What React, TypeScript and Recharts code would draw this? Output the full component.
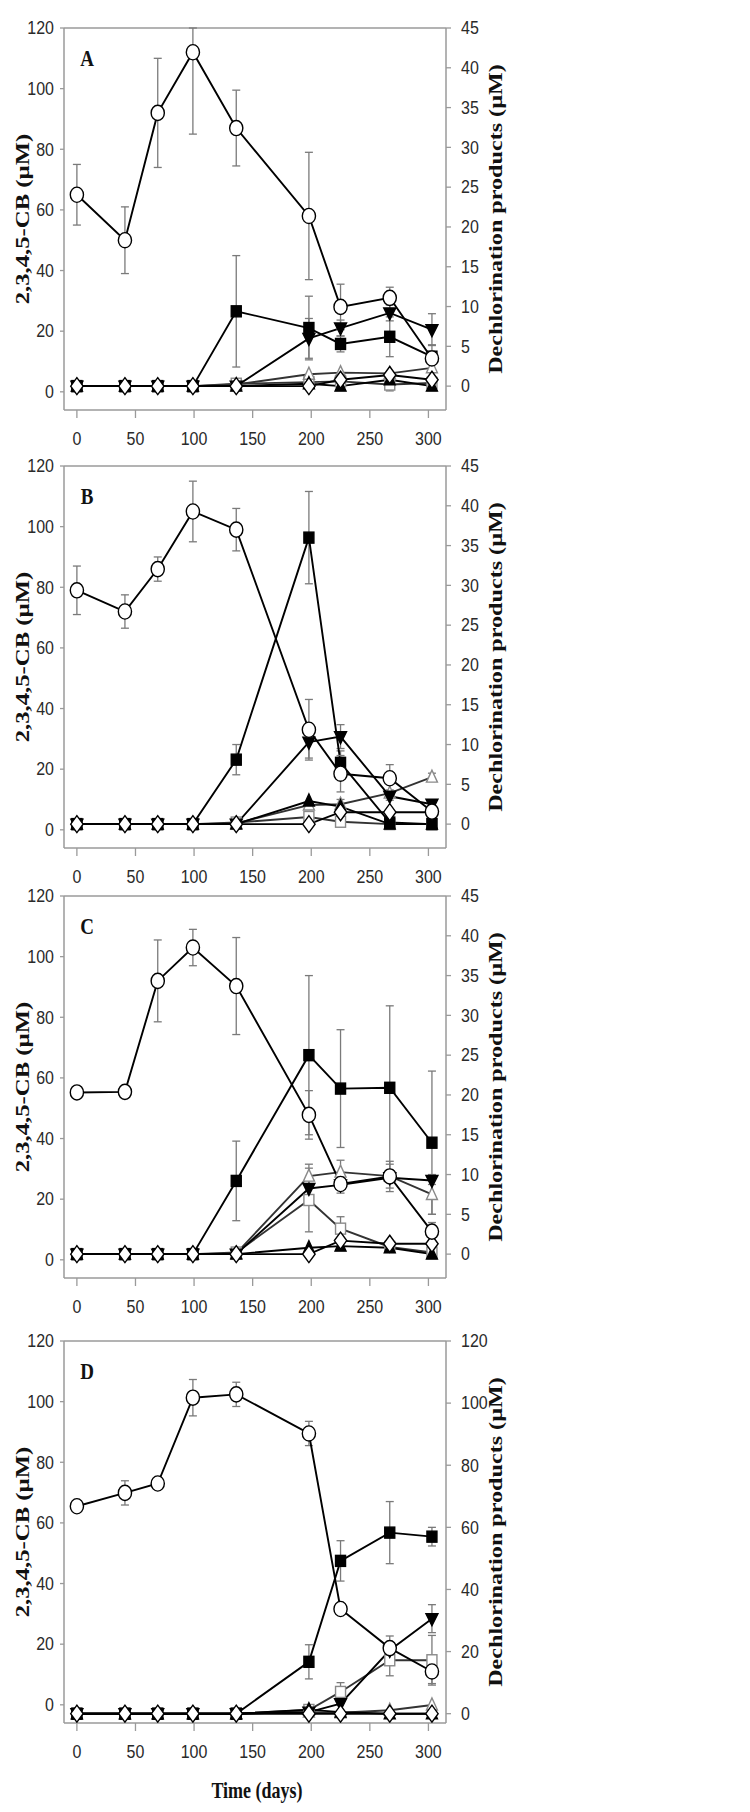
import React from 'react';
import { LineChart, Line, XAxis, YAxis, ErrorBar, ReferenceLine } from 'recharts';

// sampling days (shared by all panels)
const days = [0, 41, 69, 99, 136, 198, 225, 267, 303];

// Panel A
const cbA = [65, 50, 92, 112, 87, 58, 28, 31, 11];
const cbAErr = [10, 11, 18, 27, 12.5, 21, 7.5, 3.5, 2];
const sqA = [0, 0, 0, 0, 9.4, 7.3, 5.3, 6.2, 3.7];
const sqAErr = [0, 0, 0, 0, 7, 4, 1, 2.5, 1.5];
const dnA = [0, 0, 0, 0, 0, 6.0, 7.3, 9.2, 7.1];
const dnAErr = [0, 0, 0, 0, 0, 2.5, 1, 1, 2];
const otA = [0, 0, 0, 0, 0.2, 1.5, 1.7, 1.6, 2.3];
const ftA = [0, 0, 0, 0, 0, 0.3, 0, 0.8, 0];
const osA = [0, 0, 0, 0, 0.3, 0.5, 0.6, 0.2, 0.4];
const osAErr = [0, 0, 0, 0, 0.4, 0, 0, 0.8, 0];
const dmA = [0, 0, 0, 0, 0, 0, 0.8, 1.4, 0.8];

// Panel B
const cbB = [79, 72, 86, 105, 99, 33, 18.5, 17, 6];
const cbBErr = [8, 5.5, 4, 10, 7, 10, 6, 4.5, 1];
const sqB = [0, 0, 0, 0, 8.1, 36, 7.7, 0.2, 0];
const sqBErr = [0, 0, 0, 0, 1.9, 5.8, 1.5, 0, 0];
const dnB = [0, 0, 0, 0, 0, 10.3, 11, 3.5, 2.5];
const dnBErr = [0, 0, 0, 0, 0, 2, 1.5, 0.5, 0.3];
const otB = [0, 0, 0, 0, 0.1, 2.4, 2.5, 3.9, 5.9];
const otBErr = [0, 0, 0, 0, 0, 0.3, 0.6, 0.4, 0.5];
const ftB = [0, 0, 0, 0, 0, 2.9, 2.2, 0, 0];
const osB = [0, 0, 0, 0, 0.2, 0.9, 0.3, 0, 0];
const osBErr = [0, 0, 0, 0, 0.4, 0.5, 0.5, 0.3, 0];
const dmB = [0, 0, 0, 0, 0, 0, 1.5, 1.5, 1.5];

// Panel C
const cbC = [55.2, 55.4, 92, 103, 90.3, 47.8, 25, 27.5, 9.3];
const cbCErr = [0, 0, 13.5, 6, 16, 8, 3, 5, 3];
const sqC = [0, 0, 0, 0, 9.2, 25, 20.8, 20.9, 14];
const sqCErr = [0, 0, 0, 0, 5, 10, 7.4, 10.3, 9];
const dnC = [0, 0, 0, 0, 0, 8.25, 8.7, 9.6, 9.25];
const dnCErr = [0, 0, 0, 0, 0, 1, 0.5, 0.5, 0.5];
const otC = [0, 0, 0, 0, 0.1, 9.8, 10.3, 9.8, 7.5];
const otCErr = [0, 0, 0, 0, 0, 1.5, 1.5, 1.5, 2.5];
const ftC = [0, 0, 0, 0, 0, 0.8, 1.0, 0.8, 0];
const osC = [0, 0, 0, 0, 0.2, 6.8, 3.2, 0.9, 0.2];
const osCErr = [0, 0, 0, 0, 0.3, 4, 1.5, 0, 0];
const dmC = [0, 0, 0, 0, 0, 0, 1.7, 1.3, 1.3];

// Panel D
const cbD = [65.5, 69.9, 73, 101.3, 102.4, 89.5, 31.6, 18.7, 11];
const cbDErr = [0, 4, 0, 6, 4, 4, 0, 4, 4];
const sqD = [0, 0, 0, 0, 0, 16.7, 49.2, 58.3, 57];
const sqDErr = [0, 0, 0, 0, 0, 5.5, 6.5, 10, 3];
const dnD = [0, 0, 0, 0, 0, 0.5, 3.2, 20.4, 30.6];
const dnDErr = [0, 0, 0, 0, 0, 0, 0, 0, 4.5];
const otD = [0, 0, 0, 0, 0, 0.5, 0.3, 1.1, 2.8];
const ftD = [0, 0, 0, 0, 0, 1.3, 0.5, 0, 0];
const osD = [0, 0, 0, 0, 0, 1.2, 7, 17.2, 17.2];
const osDErr = [0, 0, 0, 0, 0, 0, 3, 5, 8];
const dmD = [0, 0, 0, 0, 0, 0, 0, 0, 0];

const xTicks = [0, 50, 100, 150, 200, 250, 300];
const leftTicks = [0, 20, 40, 60, 80, 100, 120];
const rightTicksSmall = [0, 5, 10, 15, 20, 25, 30, 35, 40, 45];
const rightTicksLarge = [0, 20, 40, 60, 80, 100, 120];

const AXIS = '#9a9a9a';
const TICK_FONT = '"Liberation Sans", Arial, sans-serif';
const TITLE_FONT = '"Liberation Serif", "Times New Roman", serif';

type Shape = 'circle' | 'square' | 'down' | 'up' | 'diamond';

const Marker = ({ cx, cy, shape, fill, stroke }: any) => {
  if (cx == null || cy == null || isNaN(cy)) return null;
  const sw = 1.4;
  if (shape === 'circle')
    return <ellipse cx={cx} cy={cy} rx={6.6} ry={7.6} fill={fill} stroke={stroke} strokeWidth={sw} />;
  if (shape === 'square')
    return <rect x={cx - 5} y={cy - 5.5} width={10} height={11} fill={fill} stroke={stroke} strokeWidth={sw} />;
  if (shape === 'down')
    return <polygon points={`${cx - 6},${cy - 5} ${cx + 6},${cy - 5} ${cx},${cy + 7}`} fill={fill} stroke={stroke} strokeWidth={sw} />;
  if (shape === 'up')
    return <polygon points={`${cx - 5.5},${cy + 5} ${cx + 5.5},${cy + 5} ${cx},${cy - 7}`} fill={fill} stroke={stroke} strokeWidth={sw} />;
  return <polygon points={`${cx},${cy - 8.5} ${cx + 6.2},${cy} ${cx},${cy + 8.5} ${cx - 6.2},${cy}`} fill={fill} stroke={stroke} strokeWidth={sw} />;
};

// draw order: last one on top
const SERIES: { key: string; shape: Shape; fill: string; stroke: string; axis: string }[] = [
  { key: 'os', shape: 'square', fill: '#fff', stroke: '#8a8a8a', axis: 'r' },
  { key: 'ot', shape: 'up', fill: '#fff', stroke: '#8a8a8a', axis: 'r' },
  { key: 'ft', shape: 'up', fill: '#000', stroke: '#000', axis: 'r' },
  { key: 'dn', shape: 'down', fill: '#000', stroke: '#000', axis: 'r' },
  { key: 'sq', shape: 'square', fill: '#000', stroke: '#000', axis: 'r' },
  { key: 'dm', shape: 'diamond', fill: '#fff', stroke: '#000', axis: 'r' },
  { key: 'cb', shape: 'circle', fill: '#fff', stroke: '#000', axis: 'l' },
];

const PANELS = [
  {
    id: 'A', top: 28, rDomain: [-3, 45], rTicks: rightTicksSmall,
    vals: { cb: cbA, sq: sqA, dn: dnA, ot: otA, ft: ftA, os: osA, dm: dmA },
    errs: { cb: cbAErr, sq: sqAErr, dn: dnAErr, os: osAErr } as Record<string, number[]>,
  },
  {
    id: 'B', top: 466, rDomain: [-3, 45], rTicks: rightTicksSmall,
    vals: { cb: cbB, sq: sqB, dn: dnB, ot: otB, ft: ftB, os: osB, dm: dmB },
    errs: { cb: cbBErr, sq: sqBErr, dn: dnBErr, ot: otBErr, os: osBErr } as Record<string, number[]>,
  },
  {
    id: 'C', top: 896, rDomain: [-3, 45], rTicks: rightTicksSmall,
    vals: { cb: cbC, sq: sqC, dn: dnC, ot: otC, ft: ftC, os: osC, dm: dmC },
    errs: { cb: cbCErr, sq: sqCErr, dn: dnCErr, ot: otCErr, os: osCErr } as Record<string, number[]>,
  },
  {
    id: 'D', top: 1341, rDomain: [-3, 120], rTicks: rightTicksLarge,
    vals: { cb: cbD, sq: sqD, dn: dnD, ot: otD, ft: ftD, os: osD, dm: dmD },
    errs: { cb: cbDErr, sq: sqDErr, dn: dnDErr, os: osDErr } as Record<string, number[]>,
  },
];

const PLOT_H = 382;
const MARGIN_TOP = 10;
const TICK_SIZE = 16;

const LeftTick = (p: any) => (
  <g transform={`translate(${p.x},${p.y}) scale(1,1.12)`}>
    <text x={0} y={0} dy={5.6} textAnchor="end" fontSize={TICK_SIZE} fill="#2a2a2a" fontFamily={TICK_FONT}>
      {p.payload.value}
    </text>
  </g>
);

const RightTick = (p: any) => (
  <g transform={`translate(${p.x},${p.y}) scale(1,1.12)`}>
    <text x={0} y={0} dy={5.6} textAnchor="start" fontSize={TICK_SIZE} fill="#2a2a2a" fontFamily={TICK_FONT}>
      {p.payload.value}
    </text>
  </g>
);

const BottomTick = (p: any) => (
  <g transform={`translate(${p.x},${p.y}) scale(1,1.12)`}>
    <text x={0} y={24.5} textAnchor="middle" fontSize={TICK_SIZE} fill="#2a2a2a" fontFamily={TICK_FONT}>
      {p.payload.value}
    </text>
  </g>
);

const titleStyle: React.CSSProperties = {
  position: 'absolute',
  fontFamily: TITLE_FONT,
  fontWeight: 'bold',
  fontSize: 19,
  whiteSpace: 'nowrap',
  color: '#111',
  lineHeight: 1,
};

const Panel = ({ panel }: { panel: (typeof PANELS)[number] }) => {
  const rows = days.map((d, i) => {
    const row: Record<string, any> = { day: d };
    SERIES.forEach((s) => {
      const v = (panel.vals as any)[s.key][i];
      row[s.key] = v;
      const e = panel.errs[s.key];
      // bars are cut at the top of the frame (left axis max 120)
      row[s.key + 'Err'] = e && e[i] ? (s.axis === 'l' ? [e[i], Math.min(e[i], 120 - v)] : e[i]) : null;
    });
    return row;
  });
  const centerY = panel.top + PLOT_H / 2;
  return (
    <>
      <div style={{ position: 'absolute', left: 0, top: panel.top - MARGIN_TOP }}>
        <LineChart width={506} height={MARGIN_TOP + PLOT_H + 40} data={rows} margin={{ top: MARGIN_TOP, right: 0, bottom: 0, left: 0 }}>
          <XAxis
            dataKey="day" type="number" domain={[-11, 315]} ticks={xTicks} allowDataOverflow
            height={40} tickSize={8} tickMargin={0} tick={<BottomTick />}
            axisLine={{ stroke: AXIS, strokeWidth: 1.5 }} tickLine={{ stroke: AXIS, strokeWidth: 1.3 }}
          />
          <YAxis
            yAxisId="l" domain={[-6, 120]} ticks={leftTicks} allowDataOverflow width={64}
            tickSize={4} tickMargin={6} tick={<LeftTick />}
            axisLine={{ stroke: AXIS, strokeWidth: 1.5 }} tickLine={{ stroke: AXIS, strokeWidth: 1.3 }}
          />
          <YAxis
            yAxisId="r" orientation="right" domain={panel.rDomain} ticks={panel.rTicks} allowDataOverflow width={60}
            tickSize={5} tickMargin={10} tick={<RightTick />}
            axisLine={{ stroke: AXIS, strokeWidth: 1.5 }} tickLine={{ stroke: AXIS, strokeWidth: 1.3 }}
          />
          <ReferenceLine yAxisId="l" y={120} stroke={AXIS} strokeWidth={1.5} />
          {SERIES.map((s) => (
            <Line
              key={s.key}
              yAxisId={s.axis}
              dataKey={s.key}
              type="linear"
              stroke={s.fill === '#fff' && s.stroke !== '#000' ? '#333' : '#000'}
              strokeWidth={1.9}
              isAnimationActive={false}
              activeDot={false}
              dot={(p: any) => (
                <Marker key={`${s.key}-${p.index}`} cx={p.cx} cy={p.cy} shape={s.shape} fill={s.fill} stroke={s.stroke} />
              )}
            >
              {panel.errs[s.key] && (
                <ErrorBar dataKey={s.key + 'Err'} direction="y" width={4} stroke="#7a7a7a" strokeWidth={1.3} />
              )}
            </Line>
          ))}
        </LineChart>
      </div>
      <div style={{ ...titleStyle, left: 87, top: panel.top + 30, transform: 'translate(-50%,-50%) scaleY(1.2)' }}>
        {panel.id}
      </div>
      <div style={{ ...titleStyle, left: 22, top: centerY, transform: 'translate(-50%,-50%) rotate(-90deg) scaleX(1.3)' }}>
        2,3,4,5-CB (µM)
      </div>
      <div style={{ ...titleStyle, left: 495, top: centerY, transform: 'translate(-50%,-50%) rotate(-90deg) scaleX(1.27)' }}>
        Dechlorination products (µM)
      </div>
    </>
  );
};

export default function App() {
  return (
    <div style={{ position: 'absolute', left: 0, top: 0, width: 750, height: 1812, background: '#fff', overflow: 'hidden' }}>
      {PANELS.map((p) => (
        <Panel key={p.id} panel={p} />
      ))}
      <div style={{ ...titleStyle, fontSize: 18, left: 257, top: 1790, transform: 'translate(-50%,-50%) scaleY(1.3)' }}>
        Time (days)
      </div>
    </div>
  );
}
